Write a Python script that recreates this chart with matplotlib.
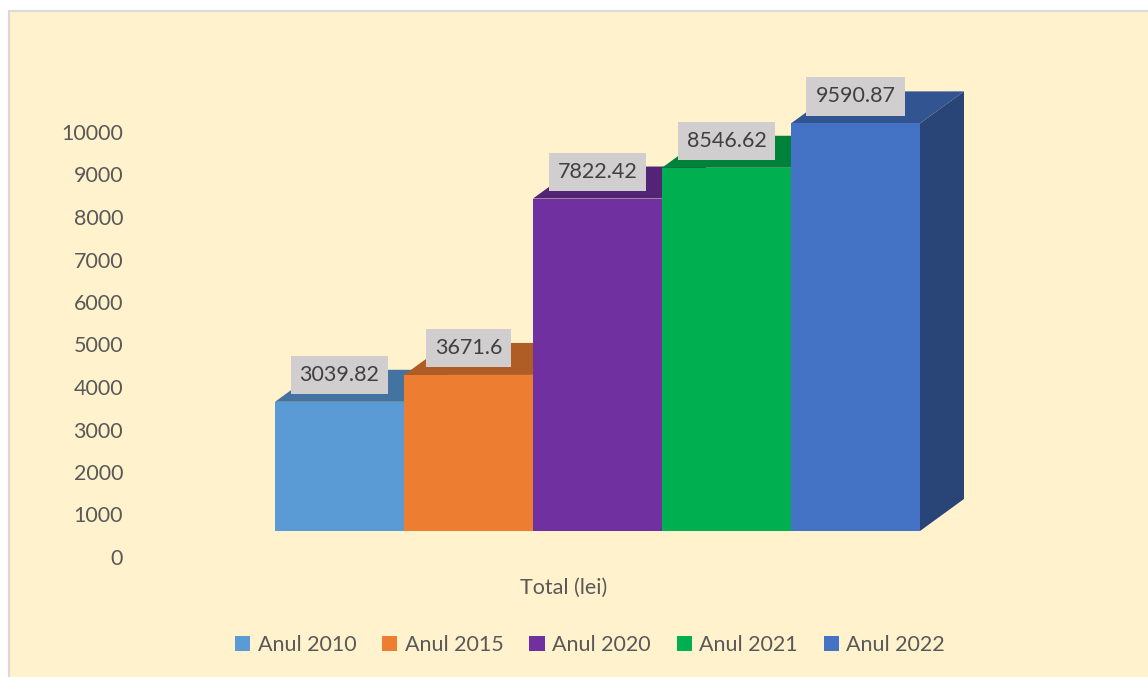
import matplotlib
matplotlib.use("Agg")
import matplotlib.pyplot as plt
from matplotlib.patches import Rectangle, Polygon
from matplotlib.colors import to_rgb

plt.rcParams['font.family'] = ['Lato', 'DejaVu Sans']

# data
years = ['Anul 2010', 'Anul 2015', 'Anul 2020', 'Anul 2021', 'Anul 2022']
values = [3039.82, 3671.6, 7822.42, 8546.62, 9590.87]
colors = ['#5B9BD5', '#ED7D31', '#7030A0', '#00B050', '#4472C4']
yticks = list(range(0, 10001, 1000))

W, H = 1148, 677
fig = plt.figure(figsize=(W / 100, H / 100), dpi=100)
fig.patch.set_facecolor('white')

# chart area background with thin grey border (bottom/right edges run off the image)
fig.patches.append(Rectangle((9 / W, -0.1), 1.0, 1.1 - 11 / H, transform=fig.transFigure,
                             facecolor='#FFF2CC', edgecolor='#D9D9D9', lw=1.5,
                             zorder=-10))


def shade(c, f):
    r, g, b = to_rgb(c)
    return (r * f, g * f, b * f)


# axes placed so that bars are 129 px wide and 1000 units = 42.5 px
left_px = 135
ax = fig.add_axes([left_px / W, 0, 1 - left_px / W, 1])
ax.set_facecolor('none')
ax.set_xlim((left_px - 339.5) / 129, (W - 339.5) / 129)
ax.set_ylim((557 - H) / 0.0425, 557 / 0.0425)

BASE = 612      # front face floor (3d look)
DX = 44 / 129   # depth, horizontal
DY = 32 / 0.0425  # depth, vertical

for i, (v, c) in enumerate(zip(values, colors)):
    top = BASE + v
    side = Polygon([(i + 0.5, BASE), (i + 0.5 + DX, BASE + DY),
                    (i + 0.5 + DX, top + DY), (i + 0.5, top)],
                   closed=True, facecolor=shade(c, 0.6), edgecolor='none', zorder=2 + i)
    lid = Polygon([(i - 0.5, top), (i + 0.5, top),
                   (i + 0.5 + DX, top + DY), (i - 0.5 + DX, top + DY)],
                  closed=True, facecolor=shade(c, 0.74), edgecolor='none', zorder=2 + i)
    ax.add_patch(side)
    ax.add_patch(lid)
    ax.bar(i, v, width=1.0, bottom=BASE, color=c, edgecolor='none', zorder=2 + i)

for i, v in enumerate(values):
    ax.text(i, BASE + v + 0.84 * DY, f'{v:g}', ha='center', va='center',
            fontsize=15.5, color='#404040', zorder=20,
            bbox=dict(boxstyle='square,pad=0.42', facecolor='#D0CECE', edgecolor='none'))

ax.set_yticks(yticks)
ax.set_yticklabels([str(t) for t in yticks])
ax.set_xticks([])
ax.tick_params(axis='y', length=0, pad=8.6, labelsize=15.5, labelcolor='#595959')
for s in ax.spines.values():
    s.set_visible(False)

fig.text(564 / W, 1 - 588 / H, 'Total (lei)', ha='center', va='center',
         fontsize=15.5, color='#595959')

handles = [Rectangle((0, 0), 1, 1, facecolor=c) for c in colors]
leg = fig.legend(handles, years, loc='center', bbox_to_anchor=(590 / W, 1 - 645 / H),
                 ncol=5, frameon=False, fontsize=15.5, handlelength=0.7,
                 handleheight=0.7, handletextpad=0.35, columnspacing=1.2)
for t in leg.get_texts():
    t.set_color('#595959')

fig.savefig('out.png', dpi=100, facecolor=fig.get_facecolor())
